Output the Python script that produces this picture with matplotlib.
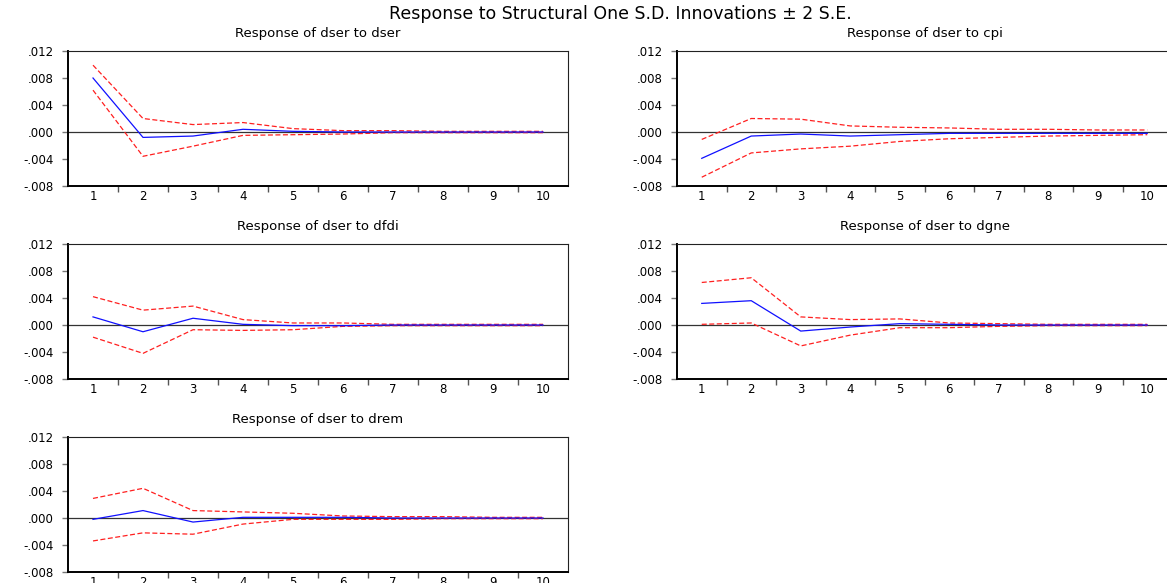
"""Impulse responses of dser: structural one S.D. innovations +/- 2 S.E."""

import matplotlib
matplotlib.use("Agg")
import matplotlib.pyplot as plt

OUT_FILE = "out.png"

periods = [1, 2, 3, 4, 5, 6, 7, 8, 9, 10]
y_ticks = [-0.008, -0.004, 0.000, 0.004, 0.008, 0.012]
y_tick_labels = ["-.008", "-.004", ".000", ".004", ".008", ".012"]

titles = [
    "Response of dser to dser",
    "Response of dser to cpi",
    "Response of dser to dfdi",
    "Response of dser to dgne",
    "Response of dser to drem",
]

# point response
resp_dser = [0.0080, -0.0008, -0.0006, 0.0004, 0.0001, 0.0000, 0.0000, 0.0000, 0.0000, 0.0000]
resp_cpi = [-0.0039, -0.0006, -0.0003, -0.0006, -0.0004, -0.0002, -0.0002, -0.0002, -0.0002, -0.0002]
resp_dfdi = [0.0012, -0.0010, 0.0010, 0.0001, -0.0001, -0.0001, 0.0000, 0.0000, 0.0000, 0.0000]
resp_dgne = [0.0032, 0.0036, -0.0009, -0.0003, 0.0002, 0.0001, 0.0000, 0.0000, 0.0000, 0.0000]
resp_drem = [-0.0002, 0.0011, -0.0006, 0.0001, 0.0001, 0.0001, 0.0000, 0.0000, 0.0000, 0.0000]

# +2 S.E.
upper_dser = [0.0099, 0.0020, 0.0011, 0.0014, 0.0005, 0.0002, 0.0002, 0.0001, 0.0001, 0.0001]
upper_cpi = [-0.0011, 0.0020, 0.0019, 0.0009, 0.0007, 0.0006, 0.0004, 0.0004, 0.0003, 0.0003]
upper_dfdi = [0.0042, 0.0022, 0.0028, 0.0008, 0.0003, 0.0003, 0.0001, 0.0001, 0.0001, 0.0001]
upper_dgne = [0.0063, 0.0070, 0.0012, 0.0008, 0.0009, 0.0003, 0.0002, 0.0001, 0.0001, 0.0001]
upper_drem = [0.0029, 0.0044, 0.0011, 0.0009, 0.0007, 0.0003, 0.0002, 0.0002, 0.0001, 0.0001]

# -2 S.E.
lower_dser = [0.0062, -0.0036, -0.0021, -0.0005, -0.0004, -0.0003, -0.0001, -0.0001, -0.0001, -0.0001]
lower_cpi = [-0.0067, -0.0031, -0.0025, -0.0021, -0.0014, -0.0010, -0.0008, -0.0006, -0.0005, -0.0004]
lower_dfdi = [-0.0018, -0.0042, -0.0007, -0.0008, -0.0007, -0.0002, -0.0001, -0.0001, -0.0001, -0.0001]
lower_dgne = [0.0001, 0.0003, -0.0031, -0.0015, -0.0004, -0.0004, -0.0002, -0.0001, -0.0001, -0.0001]
lower_drem = [-0.0034, -0.0022, -0.0024, -0.0009, -0.0002, -0.0002, -0.0002, -0.0001, -0.0001, -0.0001]

responses = [resp_dser, resp_cpi, resp_dfdi, resp_dgne, resp_drem]
uppers = [upper_dser, upper_cpi, upper_dfdi, upper_dgne, upper_drem]
lowers = [lower_dser, lower_cpi, lower_dfdi, lower_dgne, lower_drem]

# axes boxes in pixels of a 1167x583 canvas
W, H = 1167, 583
COL_X = [(68, 500), (677, 495)]
ROW_Y = [51, 244, 437]
PANEL_H = 135


def panel(fig, i):
    col = i % 2
    row = i // 2
    x0, w = COL_X[col]
    top = ROW_Y[row]
    return fig.add_axes([x0 / W, 1 - (top + PANEL_H) / H, w / W, PANEL_H / H])


def draw(ax, title, resp, upper, lower):
    ax.axhline(0, color="#333333", linewidth=0.9, zorder=1)
    ax.plot(periods, upper, color="#ff2020", linewidth=0.9, linestyle=(0, (4, 2)), zorder=2)
    ax.plot(periods, lower, color="#ff2020", linewidth=0.9, linestyle=(0, (4, 2)), zorder=2)
    ax.plot(periods, resp, color="#1010ff", linewidth=0.9, zorder=3)

    ax.set_xlim(0.5, 10.5)
    ax.set_ylim(-0.008, 0.012)
    ax.set_yticks(y_ticks)
    ax.set_yticklabels(y_tick_labels)
    # labels at integers, tick marks between periods
    ax.set_xticks(periods)
    ax.set_xticklabels([str(p) for p in periods])
    ax.set_xticks([p + 0.5 for p in periods[:-1]], minor=True)
    ax.tick_params(axis="x", which="major", length=0, pad=3, labelsize=8.5)
    ax.tick_params(axis="x", which="minor", length=4, width=1, color="#555555", direction="out")
    ax.tick_params(axis="y", length=4, width=1, color="#777777", direction="out", pad=6, labelsize=8.5)

    for side in ("left", "bottom"):
        ax.spines[side].set_linewidth(1.4)
    for side in ("top", "right"):
        ax.spines[side].set_linewidth(0.8)
        ax.spines[side].set_color("#222222")

    ax.set_title(title, fontsize=9.5, pad=10)


def main():
    plt.rcParams["font.family"] = ["DejaVu Sans"]
    fig = plt.figure(figsize=(W / 100, H / 100), dpi=100)

    for i, title in enumerate(titles):
        ax = panel(fig, i)
        draw(ax, title, responses[i], uppers[i], lowers[i])

    fig.text(620 / W, 1 - 14 / H, "Response to Structural One S.D. Innovations \u00b1 2 S.E.",
             ha="center", va="center", fontsize=12.5)

    fig.savefig(OUT_FILE, dpi=100)
    print(f"=> saved: {OUT_FILE}")


if __name__ == "__main__":
    main()
